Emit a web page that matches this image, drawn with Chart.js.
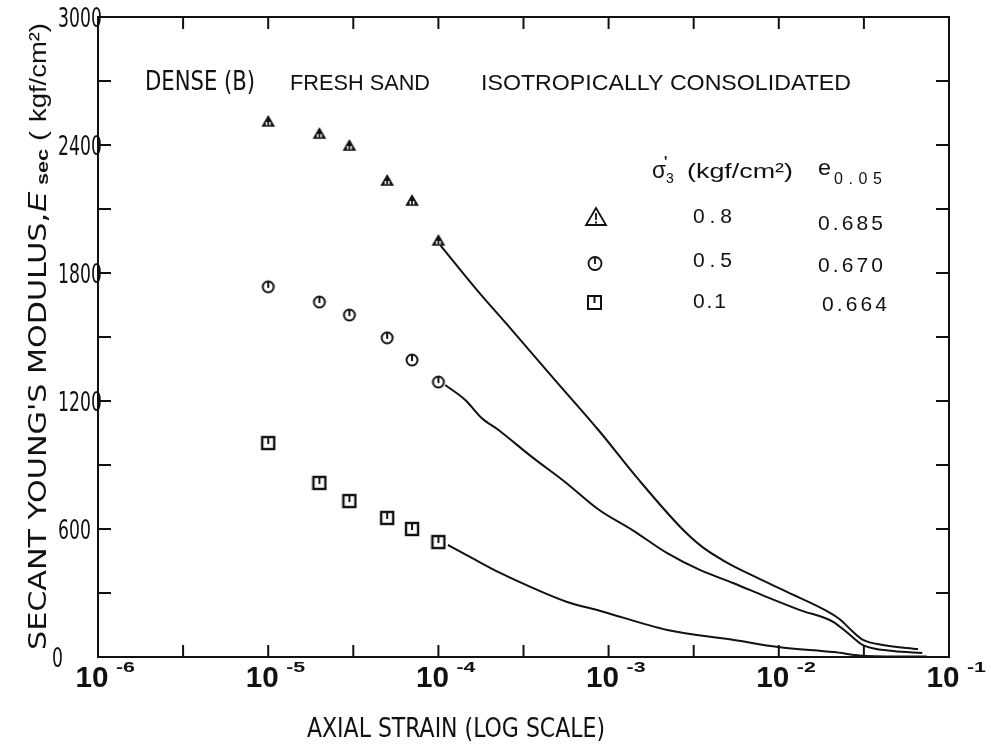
<!DOCTYPE html>
<html>
<head>
<meta charset="utf-8">
<script src="https://cdn.jsdelivr.net/npm/chart.js@4.4.1/dist/chart.umd.min.js"></script>
<style>
html, body { margin: 0; padding: 0; background: #fff; }
canvas { display: block; }
</style>
</head>
<body>
<canvas id="chart" width="991" height="744"></canvas>
<script>
// discrete test points, axial strain vs secant modulus (kgf/cm2)
const ptStrain = [1e-5, 2e-5, 3e-5, 5e-5, 7e-5, 1e-4];
const ptTri = [2513, 2456, 2400, 2236, 2142, 1955];
const ptCirc = [1735, 1664, 1603, 1496, 1392, 1289];
const ptSq = [1003, 816, 731, 652, 600, 539];

// continuous records, strain as log10
const logTri = [-3.988, -3.773, -3.578, -3.316, -3.060, -2.822, -2.567, -2.448, -2.310, -2.171, -1.952, -1.717, -1.640, -1.563, -1.505, -1.387, -1.182];
const eTri = [1930, 1720, 1542, 1299, 1064, 830, 600, 515, 445, 388, 305, 215, 176, 117, 80, 56, 37];
const logCirc = [-3.960, -3.842, -3.746, -3.647, -3.451, -3.249, -3.055, -2.860, -2.658, -2.464, -2.269, -2.069, -1.875, -1.681, -1.581, -1.505, -1.327, -1.157];
const eCirc = [1275, 1205, 1120, 1064, 938, 816, 689, 595, 488, 408, 347, 281, 220, 165, 103, 56, 28, 19];
const logSq = [-3.944, -3.834, -3.637, -3.443, -3.243, -3.048, -2.655, -2.263, -2.005, -1.677, -1.490, -1.130];
const eSq = [525, 478, 394, 323, 258, 216, 127, 80, 47, 23, 5, 2];

const yLabels = [0, 600, 1200, 1800, 2400, 3000];
const yMinor = [300, 900, 1500, 2100, 2700];
const xDecades = [-6, -5, -4, -3, -2, -1];
const xHalf = [3.162e-6, 3.162e-5, 3.162e-4, 3.162e-3, 3.162e-2];

const legendSigma = ["0.8", "0.5", "0.1"];
const legendE = ["0.685", "0.670", "0.664"];

const INK = "#111";
const COND = "'DejaVu Sans Condensed', 'DejaVu Sans', sans-serif";
const SANS = "'Liberation Sans', Arial, sans-serif";

function pts(xs, ys) {
    return xs.map((x, i) => ({ x: x, y: ys[i] }));
}
function logPts(ls, ys) {
    return ls.map((l, i) => ({ x: Math.pow(10, l), y: ys[i] }));
}

function marker(kind) {
    const cv = document.createElement("canvas");
    cv.width = 16; cv.height = 16;
    const g = cv.getContext("2d");
    g.strokeStyle = g.fillStyle = INK;
    if (kind === "tri") {
        g.beginPath(); g.moveTo(8, 2); g.lineTo(14.8, 13.8); g.lineTo(1.2, 13.8); g.closePath(); g.fill();
        g.fillStyle = "#fff";
        g.fillRect(5.6, 9, 1.5, 3.4); g.fillRect(8.9, 9, 1.5, 3.4);
    } else if (kind === "circ") {
        g.lineWidth = 2; g.beginPath(); g.arc(8, 8, 5.5, 0, Math.PI * 2); g.stroke();
        g.beginPath(); g.moveTo(8, 3); g.lineTo(8, 9); g.stroke();
    } else {
        g.lineWidth = 2.4; g.strokeRect(2, 2, 12, 12);
        g.lineWidth = 2; g.beginPath(); g.moveTo(8, 2); g.lineTo(8, 9); g.stroke();
    }
    return cv;
}

// draw text, optionally squeezed/stretched horizontally
function txt(c, s, x, y, font, opt) {
    opt = opt || {};
    c.save();
    c.font = font;
    c.fillStyle = INK;
    c.textBaseline = "alphabetic";
    const m = c.measureText(s).width;
    let sx = opt.sx || 1;
    if (opt.w) sx = opt.w / m;
    let x0 = 0;
    if (opt.align === "right") x0 = -m;
    if (opt.align === "center") x0 = -m / 2;
    c.translate(x, y);
    c.scale(sx, 1);
    c.fillText(s, x0, 0);
    c.restore();
}

// letters spread out to fill a width
function spread(c, s, x, y, font, w) {
    c.save();
    c.font = font;
    c.fillStyle = INK;
    const widths = [...s].map(ch => c.measureText(ch).width);
    const total = widths.reduce((a, b) => a + b, 0);
    const gap = s.length > 1 ? (w - total) / (s.length - 1) : 0;
    let cx = x;
    [...s].forEach((ch, i) => {
        c.fillText(ch, cx, y);
        cx += widths[i] + gap;
    });
    c.restore();
}

const paper = {
    id: "paper",
    beforeDraw(chart) {
        const c = chart.ctx;
        c.save();
        c.fillStyle = "#fff";
        c.fillRect(0, 0, chart.width, chart.height);
        c.restore();
    },
    afterDraw(chart) {
        const c = chart.ctx;
        const a = chart.chartArea;
        const xs = chart.scales.x, ys = chart.scales.y;
        c.save();
        c.strokeStyle = INK;
        c.lineWidth = 2;
        c.strokeRect(a.left, a.top, a.right - a.left, a.bottom - a.top);

        // inward ticks
        const tl = 13;
        c.beginPath();
        yLabels.concat(yMinor).forEach(v => {
            if (v === 0 || v === 3000) return;
            const y = ys.getPixelForValue(v);
            c.moveTo(a.left, y); c.lineTo(a.left + tl, y);
            c.moveTo(a.right, y); c.lineTo(a.right - tl, y);
        });
        const xt = xDecades.slice(1, -1).map(e => Math.pow(10, e)).concat(xHalf);
        xt.forEach(v => {
            const x = xs.getPixelForValue(v);
            c.moveTo(x, a.bottom); c.lineTo(x, a.bottom - tl + 1);
            c.moveTo(x, a.top); c.lineTo(x, a.top + tl - 1);
        });
        c.stroke();
        c.restore();

        // y tick labels
        const yRight = { 600: 91, 0: 63 };
        yLabels.forEach(v => {
            const y = ys.getPixelForValue(v) + 10;
            const xr = yRight[v] !== undefined ? yRight[v] : a.left + 4;
            txt(c, String(v), xr, y, "27px " + COND, { sx: 0.71, align: "right" });
        });

        // x tick labels 10^n
        xDecades.forEach(e => {
            const x = xs.getPixelForValue(Math.pow(10, e));
            txt(c, "10", x - 6, a.bottom + 30, "bold 30px " + SANS, { w: 33, align: "center" });
            txt(c, String(e), x + 18, a.bottom + 15, "bold 14px " + SANS, { w: 19 });
        });

        // axis titles
        txt(c, "AXIAL STRAIN (LOG SCALE)", 307, 737, "27px " + COND, { w: 298 });

        c.save();
        c.translate(46, 0);
        c.rotate(-Math.PI / 2);
        txt(c, "SECANT YOUNG'S MODULUS,", -650, 0, "24px " + COND, { w: 437 });
        txt(c, "E", -212, 0, "italic 26px " + SANS, { w: 20 });
        txt(c, "sec", -185, 2, "bold 16px " + SANS, { w: 36 });
        txt(c, "(", -141, 0, "24px " + SANS, { w: 10 });
        txt(c, "kgf/cm²)", -122, 0, "24px " + SANS, { w: 99 });
        c.restore();

        // header annotation
        txt(c, "DENSE (B)", 145, 90, "27px " + COND, { w: 110 });
        txt(c, "FRESH SAND", 290, 90, "22px " + SANS, { w: 140 });
        txt(c, "ISOTROPICALLY CONSOLIDATED", 481, 90, "22px " + SANS, { w: 370 });

        // legend table
        txt(c, "σ", 652, 178, "24px " + SANS, { w: 14 });
        txt(c, "'", 664, 166, "bold 14px " + SANS);
        txt(c, "3", 666, 183, "14px " + SANS);
        txt(c, "(kgf/cm²)", 687, 178, "21px " + SANS, { w: 106 });
        txt(c, "e", 818, 175, "22px " + SANS, { w: 13 });
        spread(c, "0.05", 834, 184, "16px " + SANS, 48);

        const rowY = [223, 267, 308];
        const rowE = [230, 272, 311];
        const eX = [818, 818, 822];
        legendSigma.forEach((s, i) => {
            spread(c, s, 693, rowY[i], "21px " + SANS, s === "0.1" ? 33 : 39);
            spread(c, legendE[i], eX[i], rowE[i], "21px " + SANS, 65);
        });

        // legend symbols
        c.save();
        c.strokeStyle = INK;
        c.fillStyle = INK;
        c.lineWidth = 1.8;
        c.beginPath();
        c.moveTo(596, 208); c.lineTo(606, 225); c.lineTo(586, 225); c.closePath();
        c.stroke();
        c.beginPath(); c.moveTo(596, 213); c.lineTo(596, 220); c.stroke();
        c.fillRect(595, 221.5, 2, 2);

        c.beginPath(); c.arc(595, 263.5, 6.5, 0, Math.PI * 2); c.stroke();
        c.beginPath(); c.moveTo(595, 257); c.lineTo(595, 264); c.stroke();

        c.lineWidth = 2;
        c.strokeRect(588, 296, 13, 13);
        c.beginPath(); c.moveTo(594.5, 296); c.lineTo(594.5, 303); c.stroke();
        c.restore();
    }
};

const line = (data) => ({
    data: data,
    showLine: true,
    borderColor: INK,
    borderWidth: 2,
    pointRadius: 0,
    cubicInterpolationMode: "monotone"
});
const dots = (data, img) => ({
    data: data,
    showLine: false,
    pointStyle: img,
    pointRadius: 8,
    borderColor: INK,
    backgroundColor: INK
});

const ctx = document.getElementById("chart").getContext("2d");

new Chart(ctx, {
    type: "scatter",
    data: {
        datasets: [
            line(logPts(logTri, eTri)),
            line(logPts(logCirc, eCirc)),
            line(logPts(logSq, eSq)),
            dots(pts(ptStrain, ptTri), marker("tri")),
            dots(pts(ptStrain, ptCirc), marker("circ")),
            dots(pts(ptStrain, ptSq), marker("sq"))
        ]
    },
    options: {
        responsive: false,
        animation: false,
        devicePixelRatio: 1,
        layout: { padding: { left: 98, right: 42, top: 17, bottom: 87 } },
        plugins: { legend: { display: false }, tooltip: { enabled: false } },
        scales: {
            x: { type: "logarithmic", min: 1e-6, max: 1e-1, display: false },
            y: { type: "linear", min: 0, max: 3000, display: false }
        }
    },
    plugins: [paper]
});
</script>
</body>
</html>
